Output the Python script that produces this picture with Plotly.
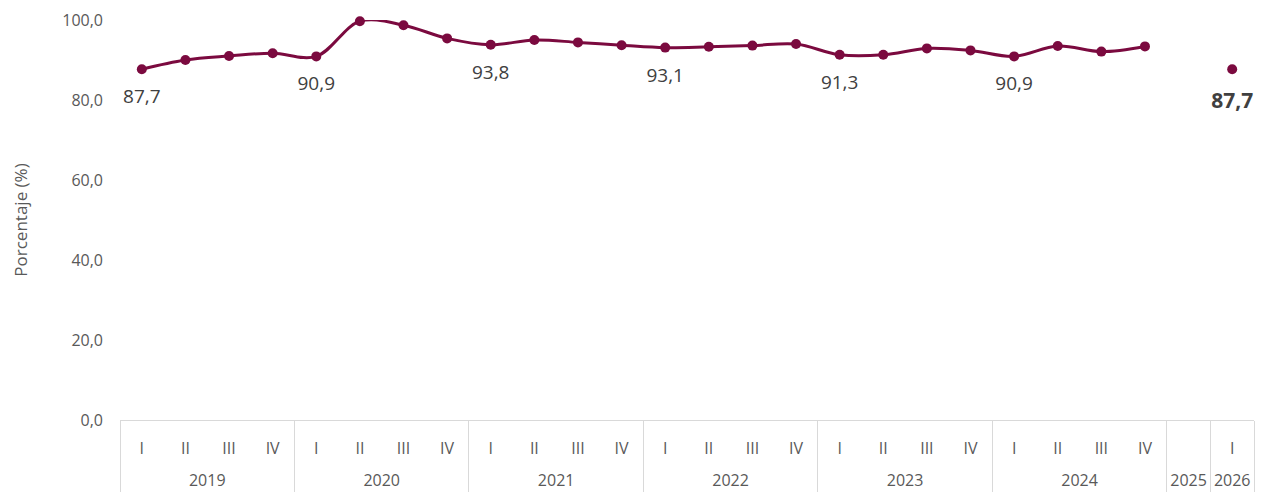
import plotly.graph_objects as go

years = ["2019"] * 4 + ["2020"] * 4 + ["2021"] * 4 + ["2022"] * 4 + ["2023"] * 4 + ["2024"] * 4 + ["2025", "2026"]
quarters = ["I", "II", "III", "IV"] * 6 + [" ", "I"]
values = [87.7, 90.0, 91.0, 91.7,
          90.9, 99.7, 98.7, 95.4,
          93.8, 95.0, 94.4, 93.7,
          93.1, 93.3, 93.6, 94.0,
          91.3, 91.3, 92.9, 92.4,
          90.9, 93.5, 92.1, 93.4,
          None, None]
last_year = ["2026"]
last_quarter = ["I"]
last_value = [87.7]

def fmt(v):
    return f"{v:.1f}".replace(".", ",")

labels = [fmt(v) if (q == "I" and v is not None) else "" for v, q in zip(values, quarters)]
# invisible spacer line under the quarter labels keeps the year row lower, as in the original
SPACER = "<br><span style='font-size:22px'>\u00a0</span>"
quarter_ticks = [q + SPACER for q in quarters]

color = "#7b0a3f"
font = "Open Sans"

fig = go.Figure()
fig.add_trace(go.Scatter(
    x=[years, quarter_ticks], y=values, mode="lines+markers",
    line=dict(color=color, width=3, shape="spline", smoothing=1),
    marker=dict(color=color, size=10),
    connectgaps=False, cliponaxis=False, showlegend=False,
))
fig.add_trace(go.Scatter(
    x=[years, quarter_ticks], y=values, mode="markers+text",
    marker=dict(color="rgba(0,0,0,0)", size=30),
    text=labels, textposition="bottom center",
    textfont=dict(family=font, size=19, color="#404040"),
    cliponaxis=False, showlegend=False, hoverinfo="skip",
))
last_ticks = [q + SPACER for q in last_quarter]
fig.add_trace(go.Scatter(
    x=[last_year, last_ticks], y=last_value, mode="markers",
    marker=dict(color=color, size=10),
    cliponaxis=False, showlegend=False,
))
fig.add_trace(go.Scatter(
    x=[last_year, last_ticks], y=last_value, mode="markers+text",
    marker=dict(color="rgba(0,0,0,0)", size=36),
    text=[fmt(v) for v in last_value], textposition="bottom center",
    textfont=dict(family=font, size=21, color="#404040", weight="bold"),
    cliponaxis=False, showlegend=False, hoverinfo="skip",
))

fig.update_layout(
    width=1263, height=498,
    margin=dict(l=120, r=9, t=20, b=78),
    paper_bgcolor="white", plot_bgcolor="white",
    separators=",.",
    font=dict(family=font, color="#595959", size=16),
)
fig.update_yaxes(
    range=[0, 100], tickvals=[0, 20, 40, 60, 80, 100], tickformat=".1f",
    showgrid=False, zeroline=False, showline=False, automargin=False,
    ticklabelstandoff=16,
    tickfont=dict(family=font, size=16, color="#595959"),
    title=dict(text="Porcentaje (%)", font=dict(family=font, size=17, color="#595959"), standoff=30),
)
fig.update_xaxes(
    type="multicategory", range=[-0.5, 25.5], automargin=False,
    showgrid=False, showline=True, linecolor="#d9d9d9", linewidth=1,
    ticklabelstandoff=14,
    showdividers=True, dividercolor="#d9d9d9", dividerwidth=1,
    tickfont=dict(family=font, size=16, color="#595959"),
)
fig.write_html("out.html", config={"displayModeBar": False},
               post_script="document.body.style.margin='0';")
